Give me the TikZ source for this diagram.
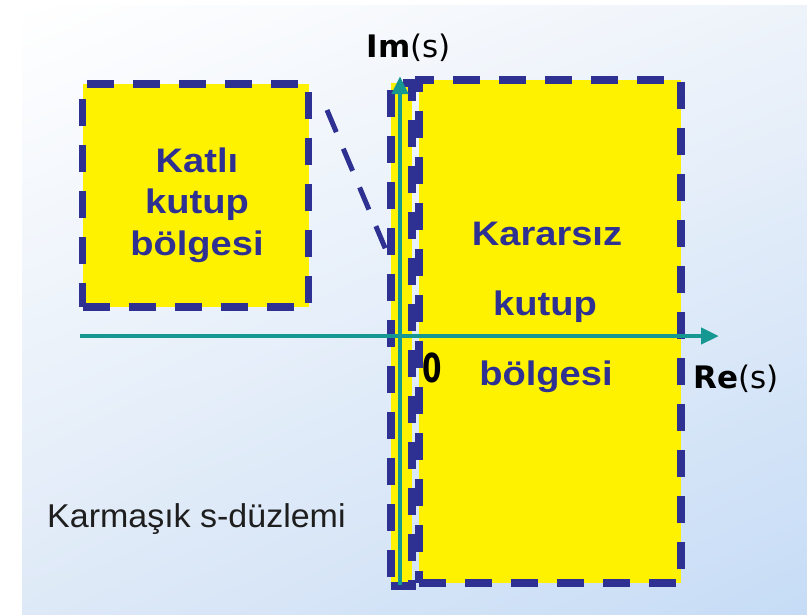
\documentclass[tikz,border=0pt]{standalone}
\usepackage{fontspec}
\setmainfont{Liberation Sans}
\newfontfamily\regionfont[FakeStretch=1.12]{Liberation Sans}
\newfontfamily\planefont[FakeStretch=1.03]{Liberation Sans}
\newfontfamily\axisfont{DejaVu Sans}
\newfontfamily\zerofont[FakeStretch=0.7]{DejaVu Sans}
\usetikzlibrary{arrows.meta,shadings}
\definecolor{edgeblue}{RGB}{46,49,146}
\definecolor{axisteal}{RGB}{22,152,146}
\definecolor{bgblueA}{RGB}{238,243,250}
\definecolor{bgblueB}{RGB}{222,233,247}
\definecolor{bgblueC}{RGB}{198,220,246}
\definecolor{planetext}{RGB}{30,30,30}
\begin{document}
\begin{tikzpicture}[x=1pt,y=-1pt,
  region/.style={rectangle, draw=edgeblue, fill=yellow, line width=7.5pt,
    dash pattern=on 27pt off 19pt, inner sep=0pt, outer sep=0pt},
  regiontext/.style={text=edgeblue, anchor=base, inner sep=0pt,
    font=\regionfont\bfseries\fontsize{34}{40}\selectfont},
  axisline/.style={draw=axisteal, line width=4.5pt,
    -{Triangle[length=18pt,width=16pt]}},
  axislabel/.style={inner sep=0pt, text=black,
    font=\axisfont\fontsize{31}{36}\selectfont},
  linkline/.style={draw=edgeblue, line width=5pt, dash pattern=on 24pt off 18pt},
]
% canvas and soft blue background panel
\useasboundingbox (0,0) rectangle (807,614);
\fill[white] (0,0) rectangle (807,614);
\shade[upper left=white, upper right=bgblueA, lower left=bgblueB, lower right=bgblueC]
  (22,5) rectangle (807,614);

% regions
\node[region, minimum width=226pt, minimum height=223pt] (katli) at (195.5,195.5) {};
\node[region, minimum width=21pt, minimum height=503pt] (strip) at (401.5,334.5) {};
\node[region, minimum width=262pt, minimum height=503pt] (kararsiz) at (550,331.5) {};

% dashed link from the multiple-pole region to the imaginary axis strip
\coordinate (linkA) at (327,110);
\coordinate (linkB) at (391,262);
\draw[linkline] (linkA) -- (linkB);

% axes
\coordinate (imbot) at (400,585);
\coordinate (imtop) at (400,76);
\coordinate (releft) at (80,336);
\coordinate (reright) at (719,336);
\draw[axisline] (imbot) -- (imtop);
\draw[axisline] (releft) -- (reright);

% region labels
\node[regiontext] (k1) at (197,172) {Katlı};
\node[regiontext] (k2) at (197,213) {kutup};
\node[regiontext] (k3) at (197,255) {bölgesi};
\node[regiontext] (u1) at (547,245) {Kararsız};
\node[regiontext] (u2) at (545,315) {kutup};
\node[regiontext] (u3) at (546,385) {bölgesi};

% axis labels
\node[axislabel, anchor=base] (imlabel) at (409,57) {\textbf{Im}(s)};
\node[axislabel, anchor=base west] (relabel) at (693,388) {\textbf{Re}(s)};
\node[inner sep=0pt, anchor=base, font=\zerofont\bfseries\fontsize{40}{44}\selectfont] (origin) at (432.5,382) {0};

% plane caption
\node[inner sep=0pt, anchor=base west, text=planetext,
  font=\planefont\fontsize{33}{38}\selectfont] (plane) at (47,527) {Karmaşık s-düzlemi};
\end{tikzpicture}
\end{document}
